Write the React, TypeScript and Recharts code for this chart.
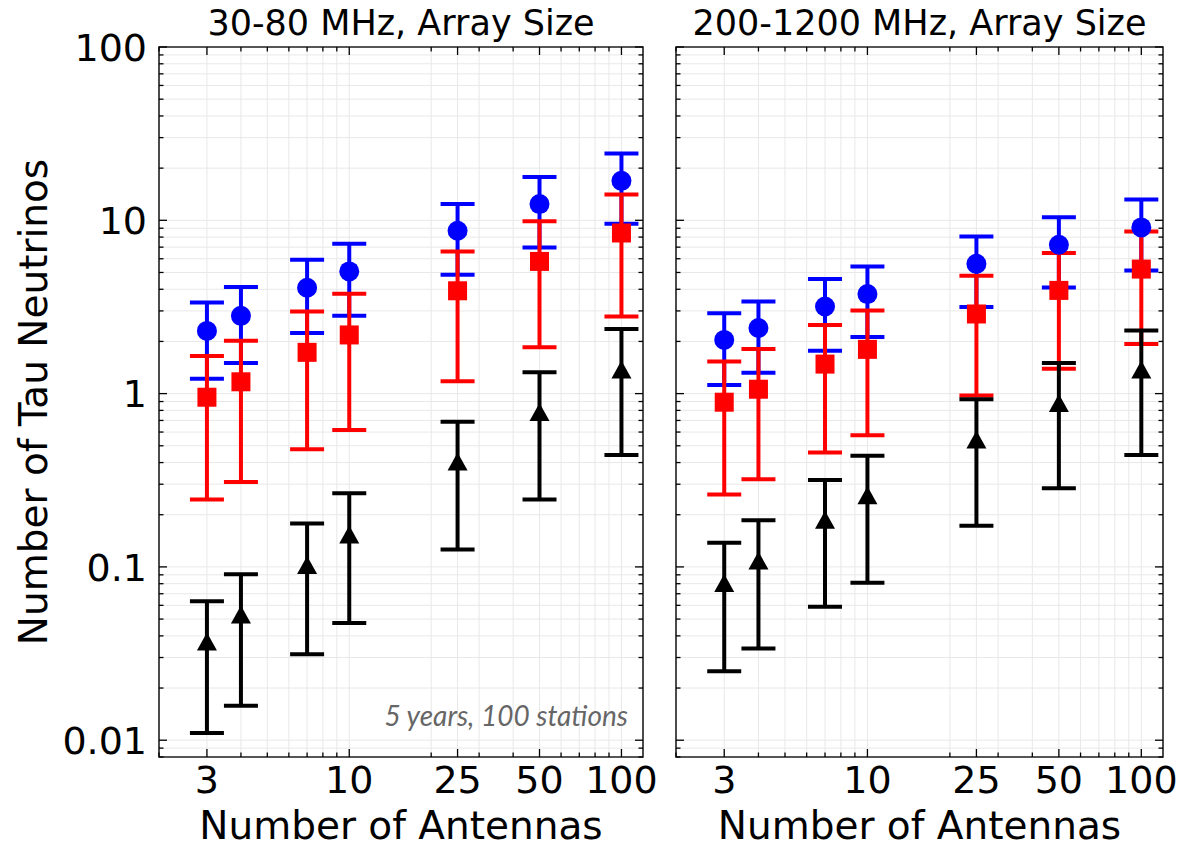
import {
  ScatterChart,
  Scatter,
  XAxis,
  YAxis,
  CartesianGrid,
  ErrorBar,
  ReferenceArea,
  Label,
} from "recharts"

// number of antennas per station
const ANTENNAS = [3, 4, 7, 10, 25, 50, 100]

// 30-80 MHz
const VHF_BLUE_MID = [2.3, 2.81, 4.08, 5.07, 8.71, 12.4, 16.9]
const VHF_BLUE_LO = [1.22, 1.5, 2.24, 2.81, 4.85, 6.97, 9.55]
const VHF_BLUE_HI = [3.36, 4.12, 5.92, 7.33, 12.4, 17.8, 24.3]
const VHF_RED_MID = [0.953, 1.17, 1.73, 2.18, 3.92, 5.79, 8.45]
const VHF_RED_LO = [0.245, 0.309, 0.477, 0.617, 1.18, 1.85, 2.79]
const VHF_RED_HI = [1.65, 2.02, 2.98, 3.77, 6.61, 9.86, 14.1]
const VHF_BLACK_MID = [0.0369, 0.0527, 0.102, 0.153, 0.403, 0.779, 1.37]
const VHF_BLACK_LO = [0.011, 0.0158, 0.0313, 0.0475, 0.126, 0.245, 0.442]
const VHF_BLACK_HI = [0.0634, 0.0908, 0.178, 0.266, 0.689, 1.33, 2.36]

// 200-1200 MHz
const UHF_BLUE_MID = [2.04, 2.39, 3.18, 3.75, 5.61, 7.23, 9.1]
const UHF_BLUE_LO = [1.12, 1.32, 1.77, 2.12, 3.16, 4.1, 5.14]
const UHF_BLUE_HI = [2.91, 3.4, 4.58, 5.42, 8.07, 10.4, 13.2]
const UHF_RED_MID = [0.892, 1.06, 1.48, 1.8, 2.88, 3.94, 5.23]
const UHF_RED_LO = [0.262, 0.32, 0.458, 0.575, 0.974, 1.39, 1.93]
const UHF_RED_HI = [1.53, 1.81, 2.49, 3.02, 4.79, 6.47, 8.63]
const UHF_BLACK_MID = [0.0803, 0.108, 0.186, 0.257, 0.54, 0.878, 1.37]
const UHF_BLACK_LO = [0.025, 0.0338, 0.0588, 0.081, 0.173, 0.284, 0.442]
const UHF_BLACK_HI = [0.138, 0.186, 0.317, 0.438, 0.929, 1.5, 2.31]

const X_TICKS = [2, 3, 4, 5, 6, 7, 8, 9, 10, 20, 25, 30, 40, 50, 60, 70, 80, 90, 100]
const X_LABELED = [3, 10, 25, 50, 100]
const Y_TICKS = [
  0.008, 0.009, 0.01, 0.02, 0.03, 0.04, 0.05, 0.06, 0.07, 0.08, 0.09,
  0.1, 0.2, 0.3, 0.4, 0.5, 0.6, 0.7, 0.8, 0.9,
  1, 2, 3, 4, 5, 6, 7, 8, 9,
  10, 20, 30, 40, 50, 60, 70, 80, 90, 100,
]
const Y_LABELED = [0.01, 0.1, 1, 10, 100]
const Y_LABEL_TEXT = ["0.01", "0.1", "1", "10", "100"]

const X_DOMAIN: [number, number] = [2, 120]
const Y_DOMAIN: [number, number] = [0.008, 100]

const FONT = "DejaVu Sans"
const PLOT_H = 710

function rows(mid: number[], lo: number[], hi: number[]) {
  return ANTENNAS.map((x, i) => ({ x, y: mid[i], err: [mid[i] - lo[i], hi[i] - mid[i]] }))
}

const Dot = (p: any) => <circle cx={p.cx} cy={p.cy} r={10} fill="#0000ff" />
const Box = (p: any) => <rect x={p.cx - 9.5} y={p.cy - 9.5} width={19} height={19} fill="#ff0000" />
const Tri = (p: any) => (
  <path d={`M${p.cx},${p.cy - 9.5} L${p.cx + 10},${p.cy + 8.5} L${p.cx - 10},${p.cy + 8.5} Z`} fill="#000" />
)

function XTick({ x, y, payload }: any) {
  const major = X_LABELED.includes(payload.value)
  const len = major ? 8 : 4.5
  return (
    <g>
      <line x1={x} y1={y} x2={x} y2={y - len} stroke="#000" strokeWidth={1.3} />
      <line x1={x} y1={y - PLOT_H} x2={x} y2={y - PLOT_H + len} stroke="#000" strokeWidth={1.3} />
      {major && (
        <text x={x} y={y + 9} dy="0.71em" textAnchor="middle" fontSize={38} fontFamily={FONT} fill="#000">
          {payload.value}
        </text>
      )}
    </g>
  )
}

function YTick({ x, y, payload, plotW, showLabel }: any) {
  const idx = Y_LABELED.indexOf(payload.value)
  const len = idx >= 0 ? 8 : 4.5
  return (
    <g>
      <line x1={x} y1={y} x2={x + len} y2={y} stroke="#000" strokeWidth={1.3} />
      <line x1={x + plotW} y1={y} x2={x + plotW - len} y2={y} stroke="#000" strokeWidth={1.3} />
      {showLabel && idx >= 0 && (
        <text x={x - 12} y={y} dy="0.36em" textAnchor="end" fontSize={38} fontFamily={FONT} fill="#000">
          {Y_LABEL_TEXT[idx]}
        </text>
      )}
    </g>
  )
}

interface PanelProps {
  title: string
  left: number
  width: number
  axisWidth: number
  marginRight: number
  first: boolean
  blue: any[]
  red: any[]
  black: any[]
}

function Panel({ title, left, width, axisWidth, marginRight, first, blue, red, black }: PanelProps) {
  const plotW = width - axisWidth - marginRight
  return (
    <div style={{ position: "absolute", left, top: 0 }}>
      <ScatterChart width={width} height={847} margin={{ top: 47, right: marginRight, bottom: 0, left: 0 }}>
        <CartesianGrid xAxisId="x" yAxisId="y" stroke="#e8e8e8" strokeWidth={1} />
        <XAxis
          xAxisId="x"
          dataKey="x"
          type="number"
          scale="log"
          domain={X_DOMAIN}
          allowDataOverflow
          ticks={X_TICKS}
          interval={0}
          height={90}
          tickSize={0}
          tickMargin={0}
          tickLine={false}
          axisLine={false}
          tick={(p: any) => <XTick {...p} />}
        >
          <Label
            value="Number of Antennas"
            position="insideBottom"
            offset={8}
            fontSize={39}
            fontFamily={FONT}
            fill="#000"
          />
        </XAxis>
        <YAxis
          yAxisId="y"
          dataKey="y"
          type="number"
          scale="log"
          domain={Y_DOMAIN}
          allowDataOverflow
          ticks={Y_TICKS}
          interval={0}
          width={axisWidth}
          tickSize={0}
          tickMargin={0}
          tickLine={false}
          axisLine={false}
          tick={(p: any) => <YTick {...p} plotW={plotW} showLabel={first} />}
        >
          {first && (
            <Label
              value="Number of Tau Neutrinos"
              angle={-90}
              position="insideLeft"
              offset={33}
              fontSize={39}
              fontFamily={FONT}
              fill="#000"
              style={{ textAnchor: "middle" }}
            />
          )}
        </YAxis>
        <ReferenceArea
          xAxisId="x"
          yAxisId="y"
          x1={X_DOMAIN[0]}
          x2={X_DOMAIN[1]}
          y1={Y_DOMAIN[0]}
          y2={Y_DOMAIN[1]}
          fill="none"
          stroke="#222"
          strokeWidth={1.6}
          ifOverflow="visible"
        >
          <Label value={title} position="top" offset={12} fontSize={35} fontFamily={FONT} fill="#000" />
          {first && (
            <Label
              content={(p: any) => {
                const vb = p.viewBox
                return (
                  <text
                    x={vb.x + vb.width - 15}
                    y={vb.y + vb.height - 31}
                    textAnchor="end"
                    fontSize={28}
                    fontStyle="italic"
                    fontFamily="Lato"
                    fill="#666"
                  >
                    5 years, 100 stations
                  </text>
                )
              }}
            />
          )}
        </ReferenceArea>
        <Scatter xAxisId="x" yAxisId="y" data={blue} shape={Dot} isAnimationActive={false}>
          <ErrorBar dataKey="err" direction="y" width={17} strokeWidth={4} stroke="#0000ff" isAnimationActive={false} />
        </Scatter>
        <Scatter xAxisId="x" yAxisId="y" data={red} shape={Box} isAnimationActive={false}>
          <ErrorBar dataKey="err" direction="y" width={17} strokeWidth={4} stroke="#ff0000" isAnimationActive={false} />
        </Scatter>
        <Scatter xAxisId="x" yAxisId="y" data={black} shape={Tri} isAnimationActive={false}>
          <ErrorBar dataKey="err" direction="y" width={17} strokeWidth={4} stroke="#000" isAnimationActive={false} />
        </Scatter>
      </ScatterChart>
    </div>
  )
}

export default function App() {
  return (
    <div style={{ position: "absolute", left: 0, top: 0, width: 1183, height: 847, background: "#fff" }}>
      <Panel
        title="30-80 MHz, Array Size"
        left={0}
        width={660}
        axisWidth={159}
        marginRight={17}
        first
        blue={rows(VHF_BLUE_MID, VHF_BLUE_LO, VHF_BLUE_HI)}
        red={rows(VHF_RED_MID, VHF_RED_LO, VHF_RED_HI)}
        black={rows(VHF_BLACK_MID, VHF_BLACK_LO, VHF_BLACK_HI)}
      />
      <Panel
        title="200-1200 MHz, Array Size"
        left={660}
        width={523}
        axisWidth={16}
        marginRight={20}
        first={false}
        blue={rows(UHF_BLUE_MID, UHF_BLUE_LO, UHF_BLUE_HI)}
        red={rows(UHF_RED_MID, UHF_RED_LO, UHF_RED_HI)}
        black={rows(UHF_BLACK_MID, UHF_BLACK_LO, UHF_BLACK_HI)}
      />
    </div>
  )
}
